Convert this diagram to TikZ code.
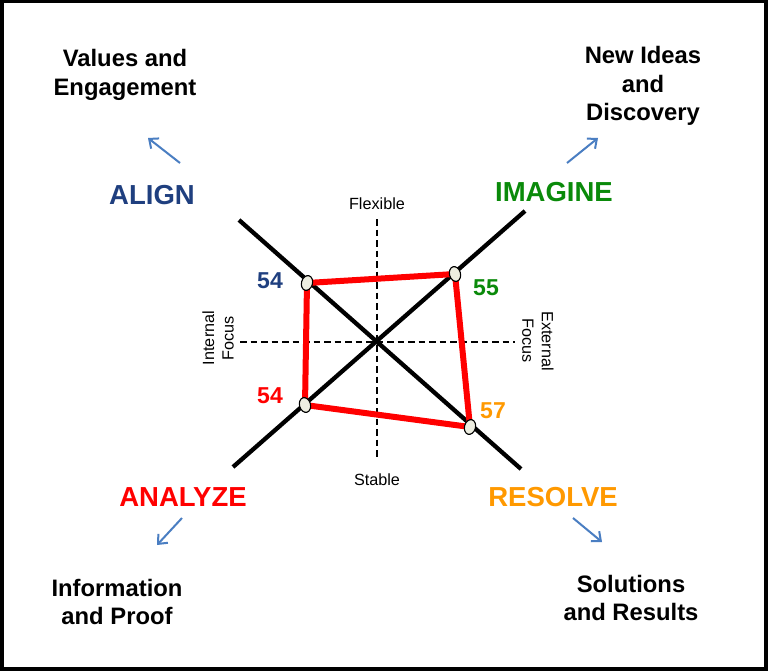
\documentclass[tikz,border=0pt]{standalone}
\usepackage{fontspec}
\setmainfont{Liberation Sans}
\usetikzlibrary{shapes.geometric,arrows.meta}
\definecolor{alignblue}{HTML}{1F3F7F}
\definecolor{imaginegreen}{HTML}{0A8A0A}
\definecolor{analyzered}{HTML}{FF0000}
\definecolor{resolveorange}{HTML}{FF9900}
\definecolor{arrowblue}{HTML}{4A7EC2}
\definecolor{dotfill}{HTML}{EDEDE0}
\begin{document}
\begin{tikzpicture}[x=1pt,y=-1pt,
  title/.style={font=\bfseries\fontsize{23.8}{28.5}\selectfont, align=center, text=black},
  quad/.style={font=\bfseries\fontsize{27.5}{32}\selectfont},
  score/.style={font=\bfseries\fontsize{23}{28}\selectfont},
  axislabel/.style={font=\fontsize{16.2}{19.5}\selectfont, align=center, inner sep=0pt},
  dot/.style={ellipse, draw=black, line width=1.1pt, fill=dotfill, minimum width=11pt, minimum height=15pt, inner sep=0pt},
  axisline/.style={draw=black, line width=1.4pt, dash pattern=on 6.5pt off 4pt},
  diag/.style={draw=black, line width=4.3pt},
  poly/.style={draw=analyzered, line width=6pt, line join=round},
  bluearrow/.style={draw=arrowblue, line width=2pt, -{Straight Barb[length=7.5pt,width=13pt,line width=2pt]}}
]
\useasboundingbox (0,0) rectangle (768,671);
\fill[white] (0,0) rectangle (768,671);
\draw[line width=3.5pt] (1.75,1.75) rectangle (766,669);

% axes
\coordinate (vt) at (377,219);
\coordinate (vb) at (377,457);
\coordinate (hl) at (240,342);
\coordinate (hr) at (515,342);
\draw[axisline] (vt) -- (vb);
\draw[axisline] (hl) -- (hr);

% diagonals
\coordinate (nw) at (239,220);
\coordinate (se) at (521,469);
\coordinate (sw) at (233,467);
\coordinate (ne) at (525,211);
\draw[diag] (nw) -- (se);
\draw[diag] (sw) -- (ne);

% data points
\coordinate (pa) at (307,283);
\coordinate (pi) at (455,274);
\coordinate (pr) at (470,427);
\coordinate (pz) at (305,405);
\draw[poly] (pa) -- (pi) -- (pr) -- (pz) -- cycle;
\node[dot, rotate=-15] (da) at (pa) {};
\node[dot, rotate=15] (di) at (pi) {};
\node[dot, rotate=-15] (dr) at (pr) {};
\node[dot, rotate=15] (dz) at (pz) {};

% scores
\node[score, text=alignblue] (sa) at (270,281) {54};
\node[score, text=imaginegreen] (si) at (486,288) {55};
\node[score, text=analyzered] (sz) at (270,396) {54};
\node[score, text=resolveorange] (sr) at (493,411) {57};

% axis labels
\node[axislabel] (flex) at (377,204) {Flexible};
\node[axislabel] (stab) at (377,480) {Stable};
\node[axislabel, rotate=90] (intf) at (218,338) {Internal\\Focus};
\node[axislabel, rotate=-90] (extf) at (538,341) {External\\Focus};

% quadrant labels
\node[quad, text=alignblue] (qa) at (152,195) {ALIGN};
\node[quad, text=imaginegreen] (qi) at (554,192) {IMAGINE};
\node[quad, text=analyzered] (qz) at (183,497) {ANALYZE};
\node[quad, text=resolveorange] (qr) at (553,497) {RESOLVE};

% titles
\node[title] (ta) at (125,75) {Values and\\Engagement};
\node[title] (ti) at (643,86) {New Ideas\\and\\Discovery};
\node[title] (tz) at (117,602) {Information\\and Proof};
\node[title] (tr) at (631,598) {Solutions\\and Results};

% arrows
\coordinate (a1s) at (180,163); \coordinate (a1e) at (148,138);
\coordinate (a2s) at (567,163); \coordinate (a2e) at (598,138);
\coordinate (a3s) at (182,518); \coordinate (a3e) at (157,545);
\coordinate (a4s) at (573,518); \coordinate (a4e) at (602,542);
\draw[bluearrow] (a1s) -- (a1e);
\draw[bluearrow] (a2s) -- (a2e);
\draw[bluearrow] (a3s) -- (a3e);
\draw[bluearrow] (a4s) -- (a4e);
\end{tikzpicture}
\end{document}
